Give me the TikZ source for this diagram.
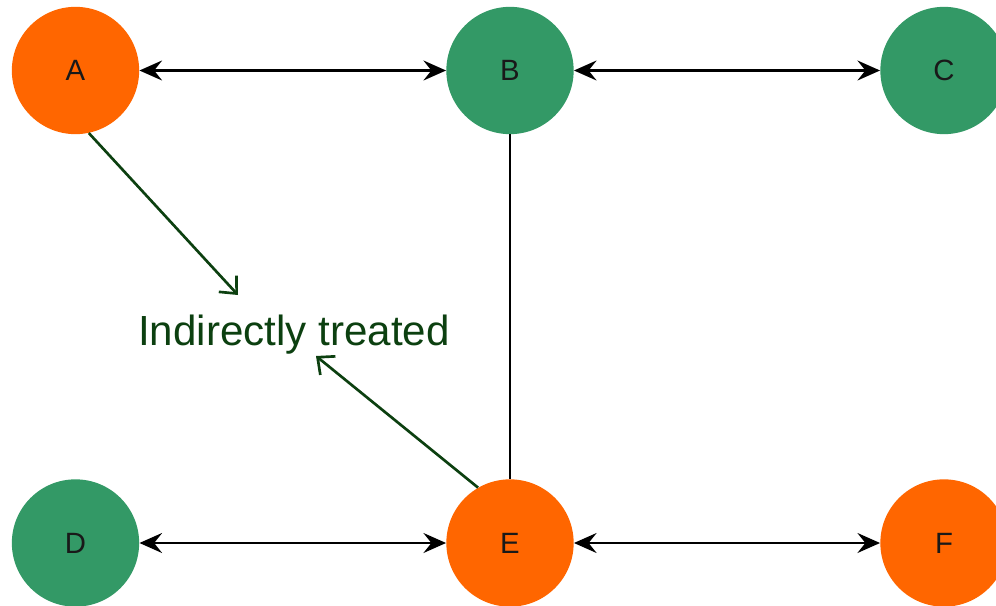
\documentclass[tikz,border=0pt]{standalone}
\usepackage{fontspec}
\setmainfont{Liberation Sans}
\usetikzlibrary{arrows.meta}

\definecolor{treatorange}{RGB}{255,102,0}
\definecolor{treatgreen}{RGB}{51,153,102}
\definecolor{labelgreen}{RGB}{12,64,16}

\begin{document}
\begin{tikzpicture}[x=0.75pt,y=-0.75pt,
    unit/.style={circle,minimum size=95.5pt,inner sep=0pt,font=\fontsize{22}{22}\selectfont,text=black!90},
    treated/.style={unit,fill=treatorange},
    control/.style={unit,fill=treatgreen},
    link/.style={line width=1.6pt,{Stealth[length=17pt,width=15pt,inset=6pt]}-{Stealth[length=17pt,width=15pt,inset=6pt]}},
    spill/.style={draw=labelgreen,line width=2pt,-{Straight Barb[length=10pt,width=18pt,line width=2pt]}}]

    \useasboundingbox (0,0) rectangle (996,606);

    % nodes (units)
    \node[treated] (A) at (75.5,70.5) {A};
    \node[control] (B) at (510,70.5) {B};
    \node[control] (C) at (944,70.5) {C};
    \node[control] (D) at (75.5,543) {D};
    \node[treated] (E) at (510,543) {E};
    \node[treated] (F) at (944,543) {F};

    % label and arrow ends
    \node[text=labelgreen,font=\fontsize{31.6}{32}\selectfont] (lbl) at (294,335) {Indirectly treated};
    \coordinate (inA) at (238,295);
    \coordinate (inE) at (316,356);

    % edges
    \draw[link] (A) to (B); % A <-> B
    \draw[link] (B) to (C); % B <-> C
    \draw[link] (D) to (E); % D <-> E
    \draw[link] (E) to (F); % E <-> F
    \draw[line width=1.4pt] (B) to (E); % B -- E
    \draw[spill] (A.-78) to (inA); % A -> label
    \draw[spill] (E.120) to (inE); % E -> label

\end{tikzpicture}
\end{document}
